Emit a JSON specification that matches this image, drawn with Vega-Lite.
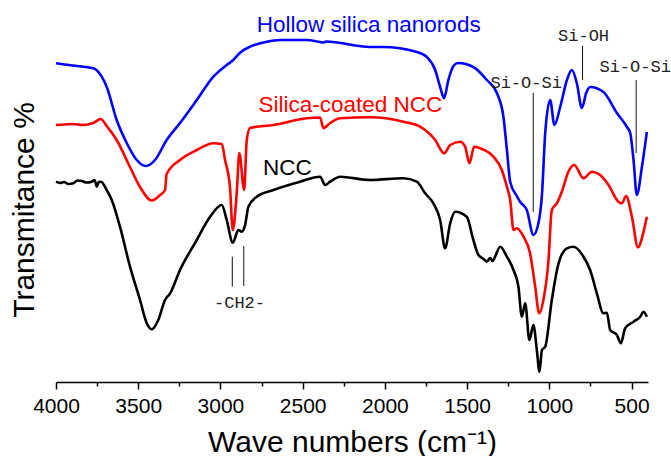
{
  "$schema": "https://vega.github.io/schema/vega-lite/v6.json",
  "width": 592,
  "height": 382,
  "autosize": "none",
  "padding": {"left": 56, "top": 0, "right": 23, "bottom": 74},
  "background": "white",
  "config": {"view": {"stroke": null}},
  "datasets": {
    "ncc": [
      {"wn":4000,"t":200.3},{"wn":3975,"t":199},{"wn":3951,"t":200},{"wn":3925,"t":198},{"wn":3895,"t":198.7},{"wn":3870,"t":201.5},{"wn":3842,"t":201},{"wn":3815,"t":199.5},{"wn":3783,"t":200.3},{"wn":3765,"t":202},{"wn":3752,"t":195.3},{"wn":3740,"t":200},{"wn":3726,"t":200.3},{"wn":3692,"t":192},{"wn":3661,"t":182},{"wn":3611,"t":155.3},{"wn":3550,"t":115.3},{"wn":3489,"t":82},{"wn":3448,"t":58.7},{"wn":3418,"t":52.7},{"wn":3378,"t":62},{"wn":3337,"t":82},{"wn":3306,"t":88.7},{"wn":3246,"t":112},{"wn":3144,"t":142},{"wn":3063,"t":165.3},{"wn":2992,"t":177},{"wn":2962,"t":162},{"wn":2925,"t":139.3},{"wn":2891,"t":152},{"wn":2870,"t":150.3},{"wn":2850,"t":157},{"wn":2830,"t":175.3},{"wn":2779,"t":185.3},{"wn":2678,"t":192},{"wn":2516,"t":200.3},{"wn":2394,"t":205.3},{"wn":2364,"t":197},{"wn":2333,"t":200.3},{"wn":2272,"t":205.3},{"wn":2090,"t":202},{"wn":1887,"t":203.7},{"wn":1806,"t":200.3},{"wn":1755,"t":188.7},{"wn":1705,"t":178.7},{"wn":1664,"t":162},{"wn":1634,"t":133.7},{"wn":1603,"t":158.7},{"wn":1573,"t":170.3},{"wn":1502,"t":165.3},{"wn":1462,"t":142},{"wn":1431,"t":127},{"wn":1400,"t":123},{"wn":1380,"t":120.3},{"wn":1360,"t":124},{"wn":1345,"t":121},{"wn":1330,"t":125.3},{"wn":1299,"t":135.3},{"wn":1258,"t":125.3},{"wn":1218,"t":112},{"wn":1188,"t":95.3},{"wn":1167,"t":65.3},{"wn":1147,"t":78.7},{"wn":1121,"t":42},{"wn":1097,"t":57},{"wn":1076,"t":32},{"wn":1060,"t":10.3},{"wn":1045,"t":32},{"wn":1025,"t":35.3},{"wn":985,"t":82},{"wn":944,"t":118.7},{"wn":893,"t":133.7},{"wn":853,"t":135.3},{"wn":792,"t":125.3},{"wn":752,"t":112},{"wn":711,"t":88.7},{"wn":671,"t":68.7},{"wn":650,"t":69.3},{"wn":630,"t":52},{"wn":589,"t":47},{"wn":565,"t":38.7},{"wn":539,"t":53.7},{"wn":488,"t":60.3},{"wn":447,"t":65.3},{"wn":427,"t":70.3},{"wn":407,"t":65.3}
    ],
    "coated": [
      {"wn":4000,"t":257},{"wn":3950,"t":257.5},{"wn":3897,"t":258},{"wn":3840,"t":257},{"wn":3773,"t":259},{"wn":3728,"t":263},{"wn":3692,"t":256},{"wn":3631,"t":242},{"wn":3550,"t":215},{"wn":3489,"t":195},{"wn":3418,"t":181.5},{"wn":3367,"t":187},{"wn":3337,"t":192},{"wn":3327,"t":208},{"wn":3246,"t":222},{"wn":3144,"t":232},{"wn":3043,"t":238.7},{"wn":2992,"t":238},{"wn":2972,"t":222},{"wn":2942,"t":195},{"wn":2925,"t":152},{"wn":2901,"t":189},{"wn":2885,"t":229},{"wn":2856,"t":192},{"wn":2840,"t":242},{"wn":2820,"t":254},{"wn":2678,"t":257},{"wn":2475,"t":263.7},{"wn":2394,"t":264.5},{"wn":2374,"t":254},{"wn":2333,"t":259},{"wn":2272,"t":263.7},{"wn":2090,"t":264.7},{"wn":1887,"t":260.3},{"wn":1786,"t":255.3},{"wn":1694,"t":242},{"wn":1640,"t":228.7},{"wn":1603,"t":237},{"wn":1542,"t":240.3},{"wn":1512,"t":235.3},{"wn":1486,"t":218.7},{"wn":1457,"t":235.3},{"wn":1421,"t":233.7},{"wn":1340,"t":225.3},{"wn":1289,"t":212},{"wn":1258,"t":195.3},{"wn":1238,"t":182},{"wn":1218,"t":152},{"wn":1198,"t":153.7},{"wn":1157,"t":145.3},{"wn":1117,"t":128.7},{"wn":1086,"t":95.3},{"wn":1062,"t":68.7},{"wn":1036,"t":82},{"wn":1005,"t":122},{"wn":985,"t":172},{"wn":954,"t":178.7},{"wn":924,"t":190.3},{"wn":884,"t":210.3},{"wn":849,"t":217},{"wn":792,"t":203.7},{"wn":741,"t":210.3},{"wn":691,"t":207},{"wn":640,"t":197},{"wn":580,"t":180.3},{"wn":559,"t":178.7},{"wn":533,"t":186},{"wn":498,"t":165.3},{"wn":461,"t":134.7},{"wn":427,"t":150.3},{"wn":407,"t":165.3}
    ],
    "hollow": [
      {"wn":4000,"t":318.7},{"wn":3900,"t":316.5},{"wn":3773,"t":313.7},{"wn":3722,"t":305.3},{"wn":3692,"t":295.3},{"wn":3631,"t":262},{"wn":3570,"t":239},{"wn":3509,"t":222},{"wn":3453,"t":216},{"wn":3398,"t":222},{"wn":3327,"t":242},{"wn":3246,"t":259},{"wn":3144,"t":282},{"wn":3043,"t":305.3},{"wn":2962,"t":317},{"wn":2922,"t":322},{"wn":2881,"t":329.3},{"wn":2820,"t":335.3},{"wn":2718,"t":340.3},{"wn":2637,"t":342},{"wn":2475,"t":342},{"wn":2394,"t":340},{"wn":2374,"t":339.5},{"wn":2358,"t":340.5},{"wn":2090,"t":335},{"wn":2011,"t":335},{"wn":1806,"t":330},{"wn":1745,"t":325},{"wn":1694,"t":312},{"wn":1664,"t":295},{"wn":1640,"t":284},{"wn":1614,"t":302},{"wn":1583,"t":316},{"wn":1555,"t":319},{"wn":1462,"t":315},{"wn":1380,"t":302},{"wn":1319,"t":289},{"wn":1279,"t":265},{"wn":1258,"t":232},{"wn":1238,"t":200},{"wn":1198,"t":186},{"wn":1177,"t":180},{"wn":1137,"t":172},{"wn":1097,"t":147},{"wn":1066,"t":159},{"wn":1045,"t":187},{"wn":1025,"t":249},{"wn":995,"t":282},{"wn":969,"t":257},{"wn":934,"t":275},{"wn":893,"t":302},{"wn":863,"t":312},{"wn":833,"t":299},{"wn":802,"t":274},{"wn":776,"t":289},{"wn":752,"t":295},{"wn":671,"t":290},{"wn":589,"t":269},{"wn":528,"t":255},{"wn":508,"t":249},{"wn":488,"t":222},{"wn":468,"t":187},{"wn":437,"t":215},{"wn":407,"t":250}
    ],
    "names": [
      {"label":"Hollow silica nanorods","wn":2779,"t":349.7},
      {"label":"Silica-coated NCC","wn":2769,"t":270.3},
      {"label":"NCC","wn":2741,"t":207}
    ],
    "notes": [
      {"note":"Si-O-Si","wn":1141,"t":293.7},
      {"note":"Si-OH","wn":792,"t":341.3},
      {"note":"Si-O-Si","wn":478,"t":310.3},
      {"note":"-CH2-","wn":2884,"t":73.7}
    ],
    "pointers": [
      {"wn":1098,"t":289,"t2":170},
      {"wn":798,"t":336,"t2":302},
      {"wn":472,"t":302,"t2":229},
      {"wn":2928,"t":125.3,"t2":95.3},
      {"wn":2858,"t":136,"t2":96}
    ]
  },
  "resolve": {"axis": {"x": "independent"}},
  "layer": [
    {
      "data": {"name": "ncc"},
      "mark": {"type": "line", "color": "#000000", "strokeWidth": 2.6, "interpolate": "monotone"},
      "encoding": {
        "x": {"field": "wn", "type": "quantitative",
              "scale": {"domain": [400, 4000], "reverse": true, "nice": false, "zero": false},
              "axis": {"orient": "bottom", "values": [4000,3500,3000,2500,2000,1500,1000,500], "format": "d",
                       "title": "Wave numbers (cm⁻¹)", "titleFont": "Liberation Sans", "titleFontSize": 30, "titleFontWeight": "normal", "titleColor": "#000000", "titleBaseline": "alphabetic", "titleY": 69,
                       "labelFont": "Liberation Sans", "labelFontSize": 21, "labelColor": "#000000", "labelPadding": 6, "labelFlush": false, "labelOverlap": false,
                       "tickSize": 7, "tickWidth": 1.5, "tickColor": "#000000", "domainColor": "#000000", "domainWidth": 1.5, "grid": false}},
        "y": {"field": "t", "type": "quantitative",
              "scale": {"domain": [0, 382], "nice": false, "zero": false},
              "axis": {"title": "Transmitance %", "domain": false, "ticks": false, "labels": false, "grid": false,
                       "titleFont": "Liberation Sans", "titleFontSize": 30, "titleFontWeight": "normal", "titleColor": "#000000",
                       "titleX": -22.5, "titleY": 209.5, "titleBaseline": "alphabetic", "titleAlign": "center", "titleAngle": -90}}
      }
    },
    {
      "data": {"name": "coated"},
      "mark": {"type": "line", "color": "#ff0000", "strokeWidth": 2.6, "interpolate": "monotone"},
      "encoding": {
        "x": {"field": "wn", "type": "quantitative", "scale": {"domain": [400, 4000], "reverse": true, "nice": false, "zero": false}, "axis": null},
        "y": {"field": "t", "type": "quantitative", "scale": {"domain": [0, 382], "nice": false, "zero": false}}
      }
    },
    {
      "data": {"name": "hollow"},
      "mark": {"type": "line", "color": "#0000ff", "strokeWidth": 2.6, "interpolate": "monotone"},
      "encoding": {
        "x": {"field": "wn", "type": "quantitative", "scale": {"domain": [400, 4000], "reverse": true, "nice": false, "zero": false}, "axis": null},
        "y": {"field": "t", "type": "quantitative", "scale": {"domain": [0, 382], "nice": false, "zero": false}}
      }
    },
    {
      "data": {"name": "pointers"},
      "mark": {"type": "rule", "color": "#111111", "strokeWidth": 1},
      "encoding": {
        "x": {"field": "wn", "type": "quantitative", "scale": {"domain": [400, 4000], "reverse": true, "nice": false, "zero": false},
              "axis": {"orient": "bottom", "values": [3750,3250,2750,2250,1750,1250,750], "labels": false, "domain": false, "grid": false, "title": null,
                       "tickSize": 4, "tickWidth": 1.5, "tickColor": "#000000"}},
        "y": {"field": "t", "type": "quantitative", "scale": {"domain": [0, 382], "nice": false, "zero": false}},
        "y2": {"field": "t2"}
      }
    },
    {
      "data": {"name": "notes"},
      "mark": {"type": "text", "font": "Liberation Mono", "fontSize": 17, "color": "#222222", "align": "center", "baseline": "alphabetic"},
      "encoding": {
        "x": {"field": "wn", "type": "quantitative", "scale": {"domain": [400, 4000], "reverse": true, "nice": false, "zero": false}, "axis": null},
        "y": {"field": "t", "type": "quantitative", "scale": {"domain": [0, 382], "nice": false, "zero": false}},
        "text": {"field": "note"}
      }
    },
    {
      "data": {"name": "names"},
      "mark": {"type": "text", "font": "Liberation Sans", "fontSize": 22.5, "align": "left", "baseline": "alphabetic"},
      "encoding": {
        "x": {"field": "wn", "type": "quantitative", "scale": {"domain": [400, 4000], "reverse": true, "nice": false, "zero": false}, "axis": null},
        "y": {"field": "t", "type": "quantitative", "scale": {"domain": [0, 382], "nice": false, "zero": false}},
        "text": {"field": "label"},
        "color": {"field": "label", "type": "nominal", "legend": null,
                  "scale": {"domain": ["Hollow silica nanorods", "Silica-coated NCC", "NCC"], "range": ["#0000ff", "#ff0000", "#000000"]}}
      }
    }
  ]
}
